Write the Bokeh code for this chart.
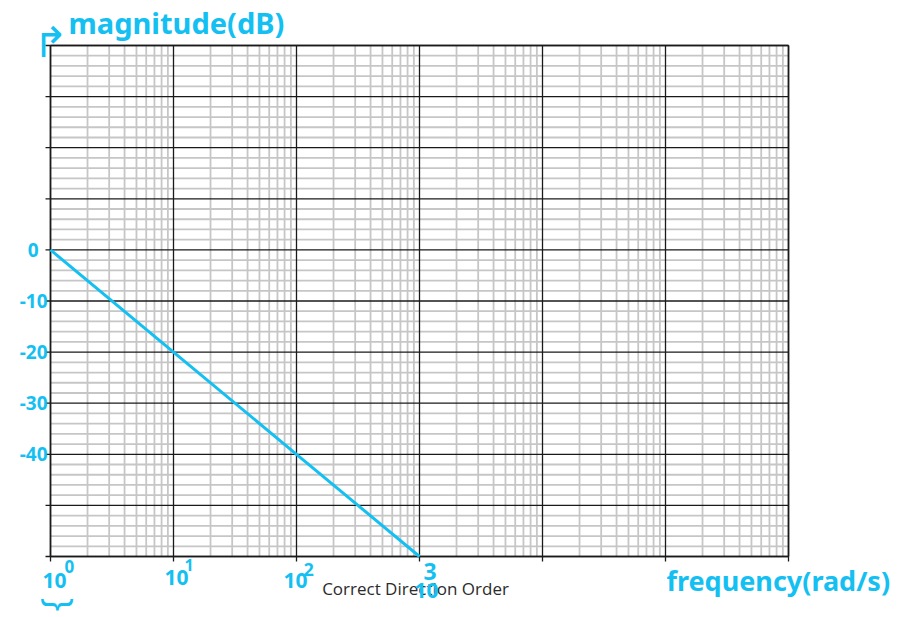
import math
from bokeh.plotting import figure
from bokeh.models import Label
from bokeh.embed import file_html
from bokeh.resources import INLINE

# Asymptotic Bode magnitude: -20 dB/decade starting from 0 dB at 1 rad/s
freq = [1, 10, 100, 1000]
mag_db = [0, -20, -40, -60]

# semilog graph paper: 6 decades by 100 dB
decades = [1, 10, 100, 1000, 10000, 100000, 1000000]
minor_freq = [m * 10 ** d for d in range(6) for m in range(2, 10)]
db_major = list(range(-60, 41, 10))
db_minor = [v for v in range(-60, 41, 2) if v % 10]

db_labels = ["0", "-10", "-20", "-30", "-40"]
db_label_vals = [0, -10, -20, -30, -40]
exp_labels = ["0", "1", "2", "3"]

INK = "#14c0f2"
HAND = "Noto Sans"
DARK = "#1a1a1a"
MINOR = "#c6c6c6"

W, H = 900, 617
# paper area inside the canvas (pixels)
LEFT, TOP, DEC_PX, DB_PX = 50, 45, 123.0, 5.11
F_LO, F_HI, DB_LO, DB_HI = 1, 1e6, -60, 40

x_range = (10 ** (-LEFT / DEC_PX), 10 ** ((W - LEFT) / DEC_PX))
y_range = (DB_HI - (H - TOP) / DB_PX, DB_HI + TOP / DB_PX)

p = figure(x_axis_type="log", x_range=x_range, y_range=y_range,
           width=W, height=H, min_border=0,
           x_axis_location=None, y_axis_location=None,
           output_backend="svg", toolbar_location=None)
p.background_fill_color = "white"
p.border_fill_color = "white"
p.outline_line_color = None
p.grid.visible = False

# minor rulings
p.segment(x0=minor_freq, y0=DB_LO, x1=minor_freq, y1=DB_HI, line_color=MINOR, line_width=1.8)
p.segment(x0=F_LO, y0=db_minor, x1=F_HI, y1=db_minor, line_color=MINOR, line_width=1.8)
# decade and 10 dB rulings
p.segment(x0=decades, y0=DB_LO, x1=decades, y1=DB_HI, line_color=DARK, line_width=1.3)
p.segment(x0=F_LO, y0=db_major, x1=F_HI, y1=db_major, line_color=DARK, line_width=1.3)
# frame edges and outward tick marks
p.segment(x0=[F_LO, F_LO, F_HI, F_LO], y0=[DB_LO, DB_LO, DB_LO, DB_HI],
          x1=[F_LO, F_HI, F_HI, F_HI], y1=[DB_HI, DB_LO, DB_HI, DB_HI],
          line_color=DARK, line_width=1.6)
p.ray(x=decades, y=DB_LO, length=5, length_units="screen", angle=-math.pi / 2,
      line_color=DARK, line_width=1.3)
p.ray(x=F_LO, y=db_major, length=5, length_units="screen", angle=math.pi,
      line_color=DARK, line_width=1.3)

p.line(freq, mag_db, line_color=INK, line_width=3)


def add_text(text, px, py, size, font=HAND, color=INK, align="left", baseline="middle",
             style="bold", angle=0.0):
    p.add_layout(Label(x=px, y=py, x_units="canvas", y_units="canvas", text=text,
                       text_font=font, text_font_size=f"{size}px", text_color=color,
                       text_align=align, text_baseline=baseline, text_font_style=style,
                       angle=angle))


add_text("Correct Direction Order", 415, 588, 17, font="Open Sans", color="#2b2b2b",
         align="center", style="normal")

# handwritten axis annotations
add_text("magnitude(dB)", 68, 22, 29)
add_text("\u21b1", 50, 40, 42, align="center", style="normal")
for lab, v in zip(db_labels, db_label_vals):
    py = TOP + (DB_HI - v) * DB_PX
    add_text(lab, 38 if v == 0 else 47, py, 19, align="right")
exp_pos = [(42, 580, 64, 566, 17), (164, 577, 184, 564, 16),
           (283, 580, 303, 569, 18), (414, 590, 423, 571, 23)]
for e, (bx, by, ex, ey, es) in zip(exp_labels, exp_pos):
    add_text("10", bx, by, 21)
    add_text(e, ex, ey, es)
add_text("}", 60, 604, 36, align="center", style="normal", angle=-math.pi / 2)
add_text("frequency(rad/s)", 666, 580, 27)

open("out.html", "w").write(file_html(p, INLINE))
